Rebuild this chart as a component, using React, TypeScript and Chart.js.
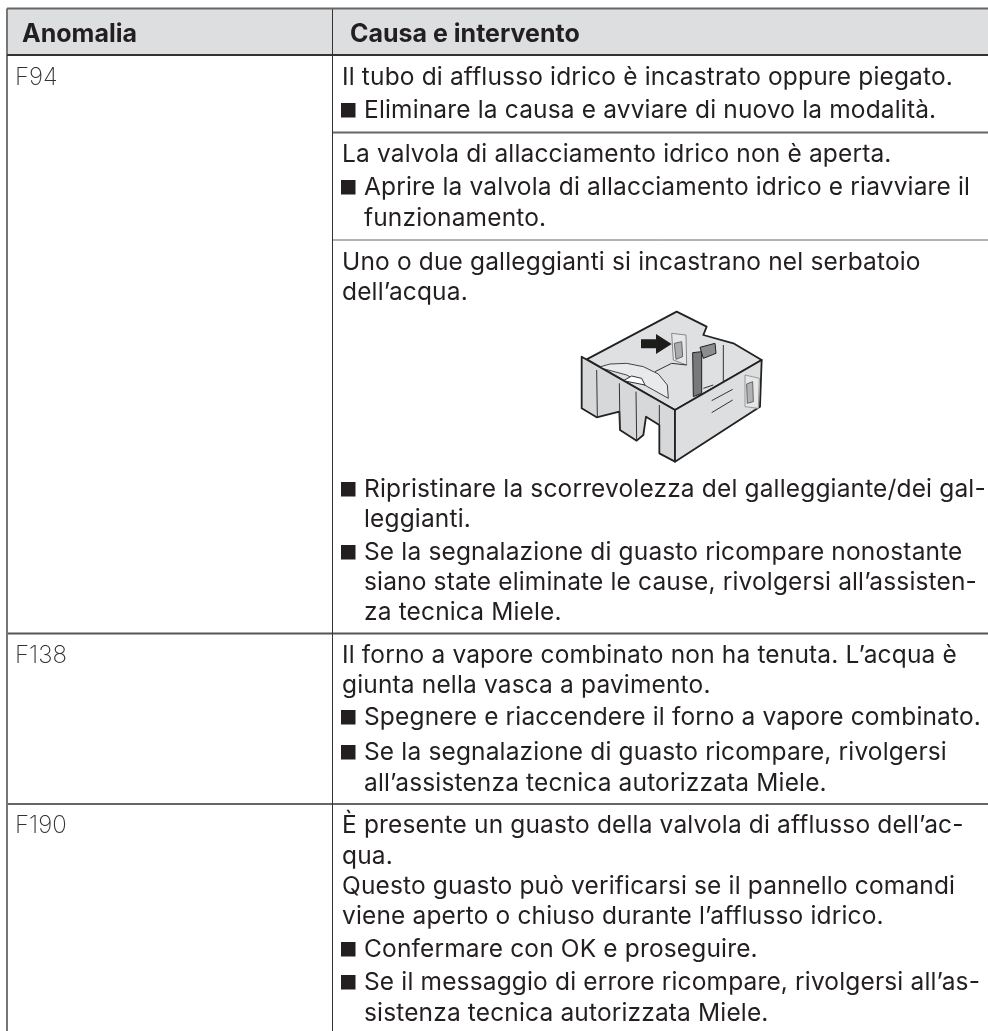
import React, { useEffect, useRef } from "react";
import { Chart, registerables } from "chart.js";
Chart.register(...registerables);

const headers = ["Anomalia", "Causa e intervento"];
const codes: [string, number][] = [["F94", 85], ["F138", 663], ["F190", 833]];
const causeLines: [string, number, boolean?][] = [
  ["Il tubo di afflusso idrico è incastrato oppure piegato.", 85],
  ["Eliminare la causa e avviare di nuovo la modalità.", 118, true],
  ["La valvola di allacciamento idrico non è aperta.", 162],
  ["Aprire la valvola di allacciamento idrico e riavviare il", 195, true],
  ["funzionamento.", 226, false],
  ["Uno o due galleggianti si incastrano nel serbatoio", 270],
  ["dell’acqua.", 300],
  ["Ripristinare la scorrevolezza del galleggiante/dei gal-", 497, true],
  ["leggianti.", 527, false],
  ["Se la segnalazione di guasto ricompare nonostante", 560, true],
  ["siano state eliminate le cause, rivolgersi all’assisten-", 590, false],
  ["za tecnica Miele.", 620, false],
  ["Il forno a vapore combinato non ha tenuta. L’acqua è", 663],
  ["giunta nella vasca a pavimento.", 693],
  ["Spegnere e riaccendere il forno a vapore combinato.", 725, true],
  ["Se la segnalazione di guasto ricompare, rivolgersi", 760, true],
  ["all’assistenza tecnica autorizzata Miele.", 791, false],
  ["È presente un guasto della valvola di afflusso dell’ac-", 833],
  ["qua.", 864],
  ["Questo guasto può verificarsi se il pannello comandi", 894],
  ["viene aperto o chiuso durante l’afflusso idrico.", 924],
  ["Confermare con OK e proseguire.", 957, true],
  ["Se il messaggio di errore ricompare, rivolgersi all’as-", 990, true],
  ["sistenza tecnica autorizzata Miele.", 1021, false],
];
const frameX = [7, 988];
const dividerX = 332.5;
const headerY = [8.5, 55];
const fullRules = [633.5, 804];
const innerRules = [132.5, 240];

const P = (pts: number[][]) => pts.map(([x, y]) => [560 + x / 3, 310 + y / 3]);
const walls: [number[][], string][] = [
  [[[80,148],[350,5],[440,50],[430,75],[520,100],[605,150],[345,300]], "#dfe0e2"],
  [[[65,140],[345,300],[345,455],[298,430],[298,345],[258,320],[250,375],[230,392],[180,360],[178,305],[110,322],[65,295]], "#d6d8da"],
  [[[345,300],[605,150],[600,290],[345,455]], "#dcdee0"],
];
const details: number[][][] = [
  [[110,180],[112,320]], [[178,220],[180,360]], [[228,245],[230,390]], [[298,285],[298,345]],
  [[285,185],[335,160]], [[335,160],[380,165]], [[490,105],[490,215]], [[430,235],[460,225]],
  [[455,272],[518,238]], [[455,308],[518,270]],
];

const draw = (c: any) => {
  const { ctx, scales } = c;
  const X = (v: number) => scales.x.getPixelForValue(v);
  const Y = (v: number) => scales.y.getPixelForValue(v);
  ctx.save();
  ctx.fillStyle = "#dcdee0";
  ctx.fillRect(X(frameX[0]), Y(headerY[0]), X(frameX[1]) - X(frameX[0]), Y(headerY[1]) - Y(headerY[0]));
  const font = "Inter";
  ctx.textBaseline = "alphabetic";
  ctx.fillStyle = "#231f20";
  ctx.font = `bold 25px ${font}`;
  (ctx as any).letterSpacing = "0px";
  ctx.fillText(headers[0], 22, 42);
  ctx.fillText(headers[1], 350, 42);
  ctx.font = `200 24px ${font}`;
  ctx.fillStyle = "#333";
  codes.forEach(([t, y]) => ctx.fillText(t, 15, Y(y)));
  ctx.fillStyle = "#231f20";
  ctx.font = `400 24.5px ${font}`;
  (ctx as any).letterSpacing = "0.15px";
  causeLines.forEach(([t, y, bullet]) => {
    const x = bullet === undefined ? 342 : 364;
    ctx.fillText(t, x, Y(y));
    if (bullet) ctx.fillRect(341, Y(y) - 15, 14.5, 14.5);
  });
  ctx.restore();

  ctx.save();
  ctx.lineJoin = "round";
  const shape = (pts: number[][], fill: string | null, stroke?: string, w = 1) => {
    ctx.beginPath();
    P(pts).forEach(([x, y], i) => (i ? ctx.lineTo(X(x), Y(y)) : ctx.moveTo(X(x), Y(y))));
    if (fill) { ctx.closePath(); ctx.fillStyle = fill; ctx.fill(); }
    if (stroke) { ctx.strokeStyle = stroke; ctx.lineWidth = w; ctx.stroke(); }
  };
  walls.slice(0, 1).forEach(([pts, fill]) => shape(pts, fill, "#222", 1.8));
  shape([[115,172],[150,162],[200,160],[250,170],[295,192],[322,225],[325,265],[200,195]], "#e9eaeb", "#444", 1);
  shape([[190,212],[215,198],[245,205],[255,225]], "#fff", "#333", 1);
  shape([[335,70],[378,75],[380,165],[340,150]], "#e6e7e8", "#888");
  shape([[343,100],[365,95],[368,140],[348,148]], "#a9abad", "#666");
  shape([[398,128],[425,125],[425,250],[400,260]], "#77797b", "#222");
  shape([[420,112],[465,100],[468,130],[430,145]], "#8b8d8f", "#222");
  walls.slice(1).forEach(([pts, fill]) => shape(pts, fill, "#222", 1.8));
  shape([[555,195],[598,205],[595,295],[555,290]], "#e6e7e8", "#999");
  shape([[560,222],[578,215],[580,275],[562,280]], "#b0b2b4", "#666");
  shape([[243,88],[288,88],[288,72],[335,102],[288,132],[288,115],[243,115]], "#1d1d1b");
  details.forEach((d) => shape(d, null, "#333", 1));
  ctx.restore();
};

const plugin = { id: "tableSheet", beforeDatasetsDraw: draw };

export default function App() {
  const ref = useRef<HTMLCanvasElement>(null);
  useEffect(() => {
    const rule = (pts: number[][], color: string, w: number) => ({
      data: pts.map(([x, y]) => ({ x, y })), showLine: true, pointRadius: 0, borderColor: color, borderWidth: w,
    });
    const [l, r] = frameX;
    const chart = new Chart(ref.current!, {
      type: "scatter",
      data: {
        datasets: [
          rule([[l, headerY[0]], [r, headerY[0]]], "#666", 2),
          rule([[l, headerY[1]], [r, headerY[1]]], "#333", 2),
          rule([[l, headerY[0]], [l, 1031]], "#777", 2),
          rule([[dividerX, headerY[0]], [dividerX, 1031]], "#333", 1),
          rule([[l, fullRules[0]], [r, fullRules[0]]], "#555", 2),
          rule([[l, fullRules[1]], [r, fullRules[1]]], "#333", 1.5),
          rule([[dividerX, innerRules[0]], [r, innerRules[0]]], "#666", 2),
          rule([[dividerX, innerRules[1]], [r, innerRules[1]]], "#666", 1),
        ] as any,
      },
      options: {
        animation: false,
        responsive: false,
        layout: { padding: 0 },
        plugins: { legend: { display: false }, tooltip: { enabled: false } },
        scales: {
          x: { type: "linear", min: 0, max: 988, display: false },
          y: { type: "linear", min: 0, max: 1031, reverse: true, display: false },
        },
      },
      plugins: [plugin],
    });
    return () => chart.destroy();
  }, []);
  return <canvas ref={ref} width={988} height={1031} style={{ position: "absolute", left: 0, top: 0, background: "#fff" }} />;
}
